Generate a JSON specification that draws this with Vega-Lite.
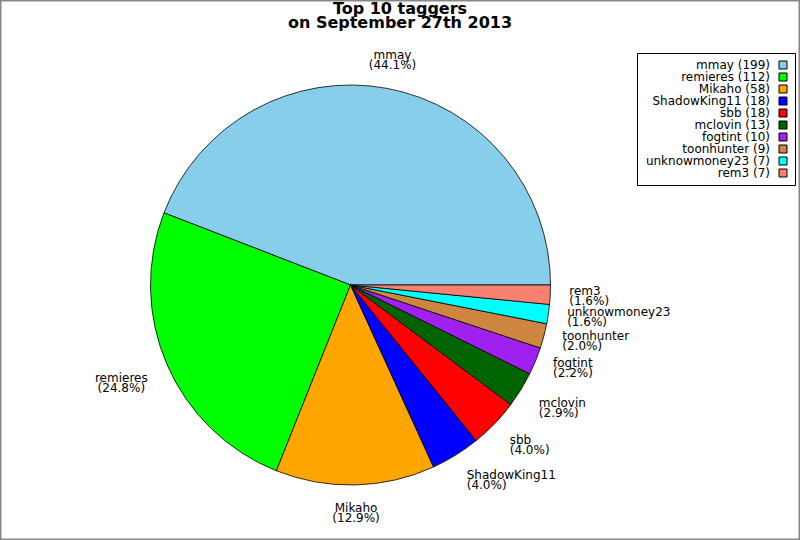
{
  "$schema": "https://vega.github.io/schema/vega-lite/v6.json",
  "width": 800,
  "height": 540,
  "padding": 0,
  "autosize": "none",
  "background": "white",
  "view": {"stroke": "#888888", "strokeWidth": 3},
  "title": {
    "text": ["Top 10 taggers", "on September 27th 2013"],
    "font": "DejaVu Sans",
    "fontSize": 16,
    "fontWeight": "bold",
    "lineHeight": 14,
    "color": "black",
    "anchor": "middle",
    "offset": -31
  },
  "config": {
    "text": {"font": "DejaVu Sans", "fontSize": 12, "lineHeight": 10, "color": "black"}
  },
  "data": {
    "values": [
      {"idx": 1, "name": "mmay", "count": 199, "pct": "(44.1%)", "entry": "mmay (199)"},
      {"idx": 2, "name": "remieres", "count": 112, "pct": "(24.8%)", "entry": "remieres (112)"},
      {"idx": 3, "name": "Mikaho", "count": 58, "pct": "(12.9%)", "entry": "Mikaho (58)"},
      {"idx": 4, "name": "ShadowKing11", "count": 18, "pct": "(4.0%)", "entry": "ShadowKing11 (18)"},
      {"idx": 5, "name": "sbb", "count": 18, "pct": "(4.0%)", "entry": "sbb (18)"},
      {"idx": 6, "name": "mclovin", "count": 13, "pct": "(2.9%)", "entry": "mclovin (13)"},
      {"idx": 7, "name": "fogtint", "count": 10, "pct": "(2.2%)", "entry": "fogtint (10)"},
      {"idx": 8, "name": "toonhunter", "count": 9, "pct": "(2.0%)", "entry": "toonhunter (9)"},
      {"idx": 9, "name": "unknowmoney23", "count": 7, "pct": "(1.6%)", "entry": "unknowmoney23 (7)"},
      {"idx": 10, "name": "rem3", "count": 7, "pct": "(1.6%)", "entry": "rem3 (7)"}
    ]
  },
  "transform": [
    {"calculate": "[datum.name, datum.pct]", "as": "label"}
  ],
  "encoding": {
    "theta": {
      "field": "count",
      "type": "quantitative",
      "stack": true,
      "scale": {"range": [1.5708, 7.854]}
    },
    "order": {"field": "idx", "sort": "descending"}
  },
  "layer": [
    {
      "mark": {
        "type": "arc",
        "outerRadius": 200,
        "stroke": "black",
        "strokeWidth": 0.8,
        "xOffset": -49.5,
        "yOffset": 15
      },
      "encoding": {
        "color": {
          "field": "entry",
          "type": "nominal",
          "sort": null,
          "scale": {
            "domain": ["mmay (199)", "remieres (112)", "Mikaho (58)", "ShadowKing11 (18)", "sbb (18)", "mclovin (13)", "fogtint (10)", "toonhunter (9)", "unknowmoney23 (7)", "rem3 (7)"],
            "range": ["#87CEEB", "#00FF00", "#FFA500", "#0000FF", "#FF0000", "#006400", "#A020F0", "#CD853F", "#00FFFF", "#FA8072"]
          },
          "legend": {
            "title": null,
            "orient": "none",
            "legendX": 637,
            "legendY": 53,
            "symbolType": "square",
            "symbolSize": 64,
            "symbolStrokeColor": "black",
            "symbolStrokeWidth": 1,
            "symbolOffset": 134,
            "labelFont": "DejaVu Sans",
            "labelFontSize": 12,
            "labelColor": "black",
            "labelAlign": "right",
            "labelOffset": -19,
            "labelLimit": 300,
            "rowPadding": 0,
            "strokeColor": "black",
            "fillColor": "white",
            "padding": 6
          }
        }
      }
    },
    {
      "mark": {"type": "text", "radius": 229, "align": "center", "baseline": "middle", "dy": -5, "xOffset": -49.5, "yOffset": 15},
      "encoding": {
        "text": {"field": "label"},
        "opacity": {"condition": {"test": "datum.idx == 1", "value": 1}, "value": 0}
      }
    },
    {
      "mark": {"type": "text", "radius": 250, "align": "center", "baseline": "middle", "dy": -7, "xOffset": -49.5, "yOffset": 15},
      "encoding": {
        "text": {"field": "label"},
        "opacity": {"condition": {"test": "datum.idx == 2", "value": 1}, "value": 0}
      }
    },
    {
      "mark": {"type": "text", "radius": 228, "align": "center", "baseline": "middle", "dy": -5, "xOffset": -49.5, "yOffset": 15},
      "encoding": {
        "text": {"field": "label"},
        "opacity": {"condition": {"test": "datum.idx == 3", "value": 1}, "value": 0}
      }
    },
    {
      "mark": {"type": "text", "radius": 221, "align": "left", "baseline": "middle", "dy": 2, "xOffset": -49.5, "yOffset": 15},
      "encoding": {
        "text": {"field": "label"},
        "opacity": {"condition": {"test": "datum.idx >= 4 && datum.idx <= 6", "value": 1}, "value": 0}
      }
    },
    {
      "mark": {"type": "text", "radius": 219, "align": "left", "baseline": "middle", "dy": -5, "xOffset": -49.5, "yOffset": 15},
      "encoding": {
        "text": {"field": "label"},
        "opacity": {"condition": {"test": "datum.idx >= 7", "value": 1}, "value": 0}
      }
    }
  ]
}
